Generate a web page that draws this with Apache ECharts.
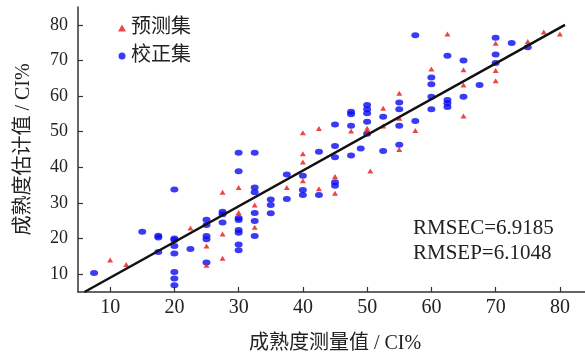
<!DOCTYPE html>
<html>
<head>
<meta charset="utf-8">
<script src="https://cdn.jsdelivr.net/npm/echarts@6/dist/echarts.min.js"></script>
<style>
html,body{margin:0;padding:0;background:#fff;}
#c{width:585px;height:353px;}
</style>
</head>
<body>
<div id="c"></div>
<script>
// ---- data ----
const xTicks = [10, 20, 30, 40, 50, 60, 70, 80];
const yTicks = [10, 20, 30, 40, 50, 60, 70, 80];
const seriesNames = ['预测集', '校正集'];
const calibration = [
  [7.5,10.3],[15,21.9],[17.5,20.8],[17.5,20.3],[17.5,16.2],
  [20,33.8],[20,20],[20,19.6],[20,17.9],[20,15.8],[20,10.6],[20,8.8],[20,6.9],
  [22.5,17.1],
  [25,25.3],[25,23.8],[25,20.7],[25,19.8],[25,13.3],
  [27.5,27.5],[27.5,26.8],[27.5,24.5],
  [30,44.1],[30,38.9],[30,25.8],[30,25.2],[30,22.4],[30,21.6],[30,18.3],[30,16.7],
  [32.5,44.1],[32.5,34.3],[32.5,33],[32.5,27.2],[32.5,24.9],[32.5,20.7],
  [35,31],[35,29.4],[35,27.1],
  [37.5,38],[37.5,31.1],
  [40,37.6],[40,33.6],[40,32.2],
  [42.5,44.4],[42.5,32.2],
  [45,52],[45,46],[45,42.8],[45,35.8],[45,34.8],
  [47.5,55.6],[47.5,54.9],[47.5,51.7],[47.5,43.3],
  [49,45.3],
  [50,57.5],[50,56.3],[50,55.2],[50,52.8],[50,49.4],
  [52.5,54.2],[52.5,44.6],
  [55,58.2],[55,56.3],[55,51.7],[55,46.3],
  [57.5,77.1],[57.5,53],
  [60,65.2],[60,63.3],[60,59.8],[60,56.3],
  [62.5,71.3],[62.5,58.9],[62.5,58],[62.5,56.9],
  [65,70],[65,59.8],
  [67.5,63.1],
  [70,76.4],[70,71.7],[70,69.3],
  [72.5,74.9],
  [75,73.7]
];
const prediction = [
  [10,14],[12.5,12.7],[22.5,23],
  [25,17.9],[25,12.5],
  [27.5,33],[27.5,21.3],[27.5,14.5],
  [30,34.3],[30,27.3],
  [32.5,29.4],[32.5,23.2],
  [37.5,34.3],
  [40,49.7],[40,43.8],[40,41.5],[40,36.2],
  [42.5,50.9],[42.5,34],
  [45,37.4],[45,32.7],
  [47.5,50.2],
  [50,51],[50,50],[50.5,39],
  [52.5,56.6],[52.5,51.6],
  [55,60.8],[55,53.8],[55,45],
  [57.5,50.3],
  [60,67.6],
  [62.5,77.4],
  [65,67.4],[65,63.1],[65,54.4],
  [70,74.8],[70,67.2],[70,64.3],
  [75,75.3],[77.5,78],[80,77.4]
];
const fitLine = [[6,5],[80.8,80]];
const statsText = ['RMSEC=6.9185', 'RMSEP=6.1048'];
const xName = '成熟度测量值 / CI%';
const yName = '成熟度估计值 / CI%';

// ---- chart ----
const FONT = "'Liberation Serif', 'Noto Sans CJK SC', serif";
const chart = echarts.init(document.getElementById('c'), null, {renderer: 'canvas'});
const axisCommon = {
  type: 'value',
  min: 5, max: 85,
  splitLine: {show: false},
  axisLine: {show: true, onZero: false, lineStyle: {color: '#333', width: 1.5}},
  axisTick: {show: true, inside: true, length: 5, lineStyle: {color: '#333', width: 1.2}},
  nameLocation: 'middle',
  nameTextStyle: {fontFamily: FONT, fontSize: 20, color: '#222'}
};
chart.setOption({
  animation: false,
  backgroundColor: '#fff',
  grid: {left: 78, right: -7, top: 7, bottom: 61, outerBoundsMode: 'none', containLabel: false},
  legend: {
    orient: 'vertical', left: 113, top: 13, itemGap: 8,
    itemWidth: 8, itemHeight: 7,
    data: seriesNames,
    textStyle: {fontFamily: FONT, fontSize: 20, color: '#222'}
  },
  xAxis: Object.assign({}, axisCommon, {
    name: xName, nameGap: 42,
    axisTick: Object.assign({}, axisCommon.axisTick, {customValues: xTicks}),
    axisLabel: {customValues: xTicks, margin: 6, fontFamily: FONT, fontSize: 20, color: '#222'}
  }),
  yAxis: Object.assign({}, axisCommon, {
    name: yName, nameGap: 44,
    axisTick: Object.assign({}, axisCommon.axisTick, {customValues: yTicks}),
    axisLabel: {customValues: yTicks, margin: 10, fontFamily: FONT, fontSize: 18, color: '#222'}
  }),
  series: [
    {
      name: seriesNames[1], type: 'scatter', data: calibration,
      symbol: 'circle', symbolSize: [8, 6],
      itemStyle: {color: '#0a0af0'}, z: 2
    },
    {
      name: seriesNames[0], type: 'scatter', data: prediction,
      symbol: 'triangle', symbolSize: [6, 5],
      itemStyle: {color: '#e41a1c'}, z: 3
    },
    {
      type: 'line', data: fitLine, symbol: 'none', silent: true,
      lineStyle: {color: '#111', width: 2.5}, z: 4
    }
  ],
  graphic: [
    {type: 'text', left: 413, top: 218, style: {text: statsText[0], fontFamily: FONT, fontSize: 21, fill: '#222'}},
    {type: 'text', left: 413, top: 243, style: {text: statsText[1], fontFamily: FONT, fontSize: 21, fill: '#222'}}
  ]
});
</script>
</body>
</html>
